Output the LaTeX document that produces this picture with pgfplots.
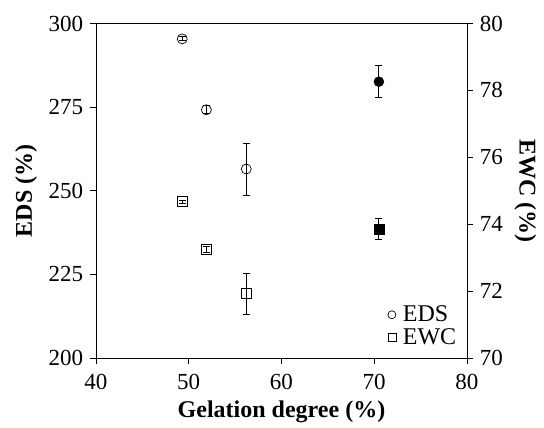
\documentclass[border=0pt]{standalone}
\usepackage{fontspec}
\setmainfont{Liberation Serif}
\usepackage{pgfplots}
\pgfplotsset{compat=1.18}
\begin{document}
\fontsize{20}{24}\selectfont
\begin{tikzpicture}
\pgfplotsset{
  common/.style={
    scale only axis, width=371pt, height=334.5pt,
    xmin=40, xmax=80,
    tick align=outside, major tick length=6pt,
    tick style={black, line width=0.9pt},
    /pgf/number format/assume math mode=true,
    ticklabel style={font=\fontsize{23}{27}\selectfont},
    label style={font=\fontsize{24}{28}\selectfont\bfseries},
  },
}
\begin{axis}[common,
  ymin=200, ymax=300, ytick={200,225,250,275,300},
  xtick={40,50,60,70,80},
  xtick pos=bottom, ytick pos=left,
  axis line style={line width=0.9pt},
  xticklabel style={yshift=-3pt},
  xlabel={Gelation degree (\%)}, ylabel={EDS (\%)},
  xlabel style={yshift=2pt},
  ylabel style={yshift=-2pt},
]
\addplot[only marks, mark=o, mark size=5pt, mark options={line width=0.7pt},
  error bars/.cd, y dir=both, y explicit,
  error bar style={line width=0.8pt},
  error mark options={rotate=90, mark size=3.5pt, line width=0.8pt}]
  coordinates {(49.3,295.4) +- (0,0.6) (51.9,274.2) +- (0,1.2) (56.2,256.5) +- (0,7.8)};
\addplot[only marks, mark=*, mark size=5pt, fill=black,
  error bars/.cd, y dir=both, y explicit,
  error bar style={line width=0.8pt},
  error mark options={rotate=90, mark size=3.5pt, line width=0.8pt}]
  coordinates {(70.5,282.6) +- (0,4.8)};
\end{axis}
\begin{axis}[common,
  ymin=70, ymax=80, ytick={70,72,74,76,78,80},
  axis x line=none, axis y line*=right,
  ytick pos=right,
  axis line style={line width=0.9pt},
  ylabel={EWC (\%)},
  ylabel style={rotate=180, yshift=-2pt},
  legend style={draw=none, fill=none, at={(rel axis cs:0.985,0.02)}, anchor=south east,
    font=\fontsize{24}{28}\selectfont, row sep=0pt,
    /tikz/every odd column/.append style={column sep=5pt}},
  legend cell align=left,
  legend image code/.code={\draw[#1] (0.1cm,0cm) -- plot coordinates {(0.1cm,0cm)};},
]
\addlegendimage{only marks, mark=o, mark size=4pt, mark options={line width=0.7pt}}
\addlegendentry{EDS}
\addlegendimage{only marks, mark=square, mark size=4pt, mark options={line width=0.7pt}}
\addlegendentry{EWC}
\addplot[only marks, mark=square, mark size=5pt, mark options={line width=0.7pt}, forget plot,
  error bars/.cd, y dir=both, y explicit,
  error bar style={line width=0.8pt},
  error mark options={rotate=90, mark size=3.5pt, line width=0.8pt}]
  coordinates {(49.3,74.67) +- (0,0.05) (51.9,73.25) +- (0,0.08) (56.2,71.92) +- (0,0.62)};
\addplot[only marks, mark=square*, mark size=5pt, fill=black, forget plot,
  error bars/.cd, y dir=both, y explicit,
  error bar style={line width=0.8pt},
  error mark options={rotate=90, mark size=3.5pt, line width=0.8pt}]
  coordinates {(70.5,73.86) +- (0,0.31)};
\end{axis}
\pgfresetboundingbox
\path (current axis.south west) ++(-96pt,-70pt) rectangle ++(544pt,428pt);
\end{tikzpicture}
\end{document}
